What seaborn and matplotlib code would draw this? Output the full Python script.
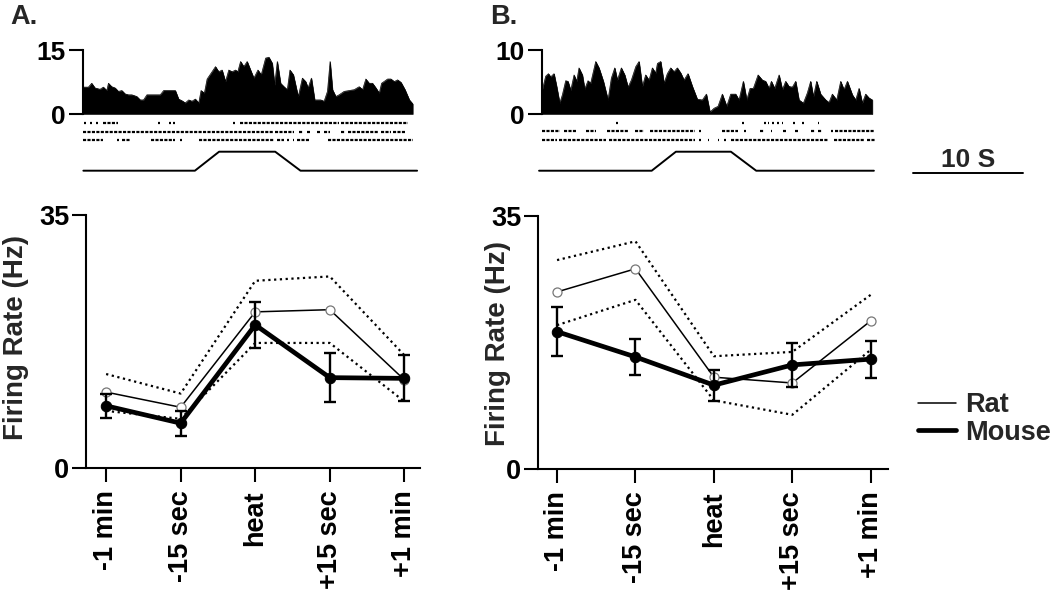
import numpy as np
import pandas as pd
import matplotlib
matplotlib.use("Agg")
import matplotlib.pyplot as plt
import seaborn as sns
from matplotlib.lines import Line2D

# ---------------- data ----------------
categories = ['-1 min', '-15 sec', 'heat', '+15 sec', '+1 min']

# Panel A (bottom) firing rates (Hz)
a_rat = [10.5, 8.4, 21.6, 21.9, 12.2]
a_rat_upper = [13.0, 10.3, 25.9, 26.5, 15.6]
a_rat_lower = [7.9, 6.8, 17.3, 17.3, 9.2]
a_mouse = [8.6, 6.2, 19.8, 12.5, 12.4]
a_mouse_sem = [1.7, 1.75, 3.2, 3.4, 3.2]

# Panel B (bottom)
b_rat = [24.5, 27.7, 12.7, 11.9, 20.5]
b_rat_upper = [28.9, 31.5, 15.6, 16.2, 24.1]
b_rat_lower = [19.9, 23.4, 9.5, 7.5, 16.5]
b_mouse = [19.0, 15.5, 11.6, 14.4, 15.2]
b_mouse_sem = [3.35, 2.5, 2.15, 3.05, 2.55]

# Panel A rate histogram (time in s, rate in Hz)
hist_a_t = [0.06, 0.52, 0.82, 1.12, 1.58, 1.88, 2.19, 2.34, 2.64, 2.95,
            3.25, 3.56, 3.86, 4.16, 4.47, 4.92, 5.23, 5.53, 5.84, 7.05,
            7.36, 8.42, 8.72, 9.03, 9.33, 9.64, 9.94, 10.24, 10.55, 10.76,
            11.06, 11.31, 11.76, 12.07, 12.37, 12.67, 12.98, 13.28, 13.59, 13.89,
            14.10, 14.35, 14.65, 14.95, 15.26, 15.56, 15.93, 16.23, 16.63, 16.93,
            17.23, 17.45, 17.69, 17.99, 18.30, 18.60, 18.84, 19.15, 19.45, 19.60,
            19.97, 20.27, 20.49, 20.79, 21.09, 21.64, 21.95, 22.25, 22.49, 22.71,
            23.01, 23.31, 23.77, 24.22, 24.68, 25.14, 25.44, 25.74, 26.05, 26.35,
            26.66, 26.96, 27.17, 27.72, 28.02, 28.33, 28.63, 28.94, 29.30, 29.70,
            30.0]
hist_a_rate = [6.3, 6.3, 7.2, 6.1, 5.8, 6.3, 5.5, 7.2, 6.4, 6.1,
               5.3, 5.5, 4.7, 4.5, 4.5, 4.1, 3.3, 3.3, 4.5, 4.5,
               5.5, 5.5, 3.5, 3.1, 2.6, 3.3, 3.0, 3.5, 2.6, 5.5,
               4.9, 8.2, 9.9, 11.1, 9.9, 10.3, 7.6, 10.3, 9.9, 10.3,
               9.9, 12.3, 11.1, 12.3, 10.3, 8.4, 10.3, 9.2, 13.1, 13.3,
               11.9, 6.8, 12.3, 7.2, 6.4, 5.7, 10.3, 9.2, 5.7, 4.1,
               8.4, 7.6, 6.1, 8.4, 3.3, 3.3, 3.0, 5.3, 12.3, 5.7,
               4.1, 4.5, 5.3, 5.5, 5.7, 6.4, 5.7, 8.2, 7.2, 7.2,
               6.1, 4.9, 7.2, 8.2, 8.2, 7.6, 8.0, 7.4, 5.7, 3.3,
               2.4]

# Panel B rate histogram
hist_b_t = [0.06, 0.36, 0.61, 0.82, 1.12, 1.36, 1.64, 1.88, 2.18, 2.39,
            2.64, 2.94, 3.18, 3.39, 3.70, 3.91, 4.21, 4.45, 4.91, 5.21,
            5.61, 6.03, 6.33, 6.64, 6.88, 7.24, 7.55, 7.85, 8.15, 8.55,
            8.85, 9.15, 9.45, 9.76, 10.06, 10.36, 10.52, 10.82, 11.12, 11.42,
            11.73, 12.03, 12.33, 12.64, 12.94, 13.30, 13.70, 14.15, 14.61, 14.97,
            15.30, 15.67, 16.03, 16.42, 16.82, 17.18, 17.64, 17.94, 18.33, 18.64,
            18.94, 19.24, 19.67, 20.06, 20.36, 20.67, 20.88, 21.18, 21.58, 21.88,
            22.18, 22.48, 22.79, 23.09, 23.39, 23.79, 24.15, 24.45, 24.70, 25.00,
            25.36, 25.82, 26.12, 26.42, 26.82, 27.18, 27.48, 27.79, 28.24, 28.55,
            28.85, 29.15, 29.45, 29.76, 30.06]
hist_b_rate = [3.8, 5.9, 6.3, 5.8, 6.3, 4.3, 1.7, 3.0, 5.2, 5.1,
               3.7, 6.1, 5.1, 7.2, 6.1, 3.9, 5.2, 4.8, 8.2, 7.2,
               5.1, 2.2, 5.6, 7.2, 5.3, 7.2, 6.1, 4.2, 5.3, 7.4,
               8.2, 4.3, 6.1, 5.3, 7.2, 6.4, 7.9, 8.2, 4.8, 6.3,
               7.2, 6.6, 7.2, 6.4, 5.3, 6.3, 4.3, 2.3, 2.2, 3.1,
               0.3, 0.9, 1.2, 3.1, 1.2, 3.1, 3.1, 2.2, 5.1, 2.2,
               4.0, 4.0, 6.1, 5.3, 5.1, 4.0, 5.1, 4.0, 6.1, 3.8,
               5.1, 4.3, 4.2, 5.1, 2.2, 1.7, 3.3, 5.1, 2.7, 5.1,
               3.1, 2.2, 1.8, 3.1, 2.2, 5.1, 3.8, 5.1, 3.0, 2.2,
               4.0, 1.7, 3.1, 2.5, 2.2]

# Spike rasters: runs of spikes as [start, end] in s
raster_a1 = [[0.15, 0.3], [0.65, 0.8], [1.25, 1.4], [1.8, 3.2], [6.85, 7.0], [7.85, 8.0],
             [8.25, 8.4], [13.65, 13.8], [14.3, 23.3], [23.5, 29.6]]
raster_a2 = [[0.0, 17.4], [17.5, 19.2], [19.7, 20.0], [20.4, 20.7], [21.3, 21.6], [21.9, 22.5],
             [23.5, 23.8], [24.1, 26.8], [27.1, 28.0], [28.2, 29.3]]
raster_a3 = [[0.0, 1.8], [3.1, 3.3], [3.6, 4.3], [6.2, 8.1], [8.2, 8.4], [8.85, 9.0],
             [10.6, 17.4], [17.7, 18.3], [18.6, 18.75], [19.1, 19.25], [19.5, 20.7], [22.3, 30.0]]
raster_b1 = [[6.75, 6.9], [18.25, 18.4], [20.2, 20.35], [20.55, 20.7], [20.95, 21.1],
             [21.4, 21.55], [21.8, 21.95], [22.85, 23.0], [23.7, 23.85], [25.1, 25.25]]
raster_b2 = [[0.0, 1.7], [2.0, 3.2], [4.0, 4.9], [5.9, 7.8], [8.5, 9.3], [9.8, 13.9],
             [14.3, 14.45], [16.4, 17.8], [18.4, 18.55], [19.8, 20.2], [20.8, 20.95],
             [21.9, 22.2], [23.0, 23.3], [24.5, 24.8], [25.1, 25.5], [26.3, 26.45], [26.7, 30.3]]
raster_b3 = [[0.0, 1.4], [1.6, 5.8], [6.1, 13.9], [14.3, 14.45], [15.1, 15.25], [16.0, 16.15],
             [16.6, 16.75], [17.2, 26.0], [26.6, 29.3], [29.6, 30.3]]

# Heat stimulus trace (time s, on level 0/1)
stim_a_t = [0.06, 10.2, 12.4, 17.5, 19.8, 30.4]
stim_b_t = [-0.24, 10.0, 12.2, 17.2, 19.5, 30.2]
stim_level = [0, 0, 1, 1, 0, 0]

# ---------------- style ----------------
sns.set_theme(style="white")
plt.rcParams['font.family'] = ['Liberation Sans', 'DejaVu Sans']
plt.rcParams['font.weight'] = 'bold'
plt.rcParams['axes.labelweight'] = 'bold'

W, H = 1050, 593
fig = plt.figure(figsize=(10.5, 5.93), dpi=100)


def rect(x0, y0, x1, y1):
    """pixel box (top-left origin) -> figure fraction rect"""
    return [x0 / W, 1 - y1 / H, (x1 - x0) / W, (y1 - y0) / H]


FS = 19.5
LW_AX = 1.5


def top_panel(box, t, rate, rasters, stim_t, ymax, ylim, rows_y, stim_lo, stim_hi):
    ax = fig.add_axes(box)
    ax.fill_between(t, rate, 0, color='black', lw=0.4)
    sns.lineplot(x=t, y=rate, ax=ax, color='black', lw=0.5)
    for y, row in zip(rows_y, rasters):
        for s, e in row:
            ax.plot([s, e], [y, y], color='black', lw=1.6, ls=(0, (1.4, 0.6)),
                    solid_capstyle='butt', dash_capstyle='butt')
    lv = stim_lo + (stim_hi - stim_lo) * np.asarray(stim_level, float)
    ax.plot(stim_t, lv, color='black', lw=1.4)
    ax.set_xlim(-0.4, 30.7)
    ax.set_ylim(*ylim)
    for s in ['top', 'right', 'bottom']:
        ax.spines[s].set_visible(False)
    ax.spines['left'].set_position(('data', 0))
    ax.spines['left'].set_bounds(0, ymax)
    ax.spines['left'].set_linewidth(LW_AX)
    ax.spines['left'].set_color('black')
    ax.set_xticks([])
    ax.set_yticks([0, ymax])
    ax.set_yticklabels(['0', str(ymax)])
    ax.tick_params(axis='y', direction='out', length=10, width=LW_AX, labelsize=FS - 0.5,
                   pad=2, left=True, colors='black')
    ax.set_xlabel('')
    ax.set_ylabel('')
    ax.patch.set_alpha(0)
    return ax


top_panel(rect(78.3, 50, 420.4, 175.9), hist_a_t, hist_a_rate,
          [raster_a1, raster_a2, raster_a3], stim_a_t, 15, (-14.5, 15),
          [-2.19, -4.14, -6.09], -13.28, -8.83)
top_panel(rect(537.3, 50, 879.4, 176.1), hist_b_t, hist_b_rate,
          [raster_b1, raster_b2, raster_b3], stim_b_t, 10, (-9.7, 10),
          [-1.42, -2.73, -4.03], -8.86, -5.89)


def bottom_panel(box, xlim, rat, up, lo, mouse, sem):
    ax = fig.add_axes(box)
    pos = np.arange(len(categories))
    dot = (0, (1.0, 1.6))
    sns.lineplot(x=pos, y=up, ax=ax, color='black', lw=1.6, ls=dot)
    sns.lineplot(x=pos, y=lo, ax=ax, color='black', lw=1.6, ls=dot)
    sns.lineplot(x=pos, y=rat, ax=ax, color='black', lw=1.1, marker='o', markersize=6.5,
                 markerfacecolor='white', markeredgecolor='#777777', markeredgewidth=0.9)
    ax.errorbar(pos, mouse, yerr=sem, fmt='none', ecolor='black', elinewidth=1.7,
                capsize=4, capthick=1.7, zorder=3)
    sns.lineplot(x=pos, y=mouse, ax=ax, color='black', lw=3.4, marker='o', markersize=7.5,
                 markerfacecolor='black', markeredgecolor='black', zorder=4)
    ax.set_xlim(*xlim)
    ax.set_ylim(0, 35)
    ax.set_xticks(pos)
    ax.set_xticklabels(categories, rotation=90, fontsize=FS, fontweight='bold')
    ax.set_yticks([0, 35])
    ax.set_yticklabels(['0', '35'], fontsize=FS, fontweight='bold')
    for s in ['top', 'right']:
        ax.spines[s].set_visible(False)
    for s in ['left', 'bottom']:
        ax.spines[s].set_linewidth(LW_AX)
        ax.spines[s].set_color('black')
    ax.tick_params(direction='out', length=10, width=LW_AX, colors='black',
                   bottom=True, left=True)
    ax.tick_params(axis='x', pad=6)
    ax.tick_params(axis='y', pad=2)
    ax.set_xlabel('')
    ax.set_ylabel('')
    ax.patch.set_alpha(0)
    for l in ax.lines:
        l.set_clip_on(False)
    return ax


bottom_panel(rect(86, 215, 420, 468), (-0.27, 4.21),
             a_rat, a_rat_upper, a_rat_lower, a_mouse, a_mouse_sem)
bottom_panel(rect(538, 216, 888, 469), (-0.243, 4.22),
             b_rat, b_rat_upper, b_rat_lower, b_mouse, b_mouse_sem)

# y labels
fig.text(16 / W, 1 - 337 / H, 'Firing Rate (Hz)', rotation=90, ha='center', va='center',
         fontsize=FS + 0.5, fontweight='bold')
fig.text(498 / W, 1 - 343 / H, 'Firing Rate (Hz)', rotation=90, ha='center', va='center',
         fontsize=FS + 0.5, fontweight='bold')

# panel letters
fig.text(10 / W, 1 - 17 / H, 'A.', ha='left', va='center', fontsize=FS, fontweight='bold')
fig.text(490 / W, 1 - 17 / H, 'B.', ha='left', va='center', fontsize=FS, fontweight='bold')

# time scale bar
fig.add_artist(Line2D([913 / W, 1023 / W], [1 - 173 / H, 1 - 173 / H], color='black',
                      lw=1.4, transform=fig.transFigure))
fig.text(968 / W, 1 - 160 / H, '10 S', ha='center', va='center', fontsize=FS - 0.5,
         fontweight='bold')

# legend
handles = [Line2D([], [], color='black', lw=1.1), Line2D([], [], color='black', lw=3.4)]
fig.legend(handles, ['Rat', 'Mouse'], loc='center left',
           bbox_to_anchor=(918 / W, 1 - 419 / H), frameon=False,
           handlelength=1.4, handletextpad=0.35, labelspacing=0.05,
           borderpad=0, borderaxespad=0, prop={'weight': 'bold', 'size': FS})

fig.savefig('out.png', dpi=100)
